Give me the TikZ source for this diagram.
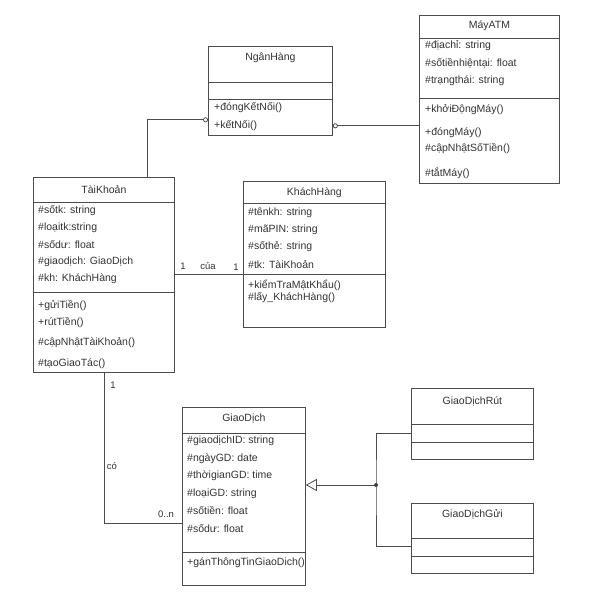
\documentclass[tikz,border=0pt]{standalone}
\usepackage{fontspec}
\setmainfont{Liberation Sans}
\usetikzlibrary{arrows.meta, positioning}

\tikzset{
    classbox/.style={draw=black!70, line width=0.8pt, anchor=north west, inner sep=0pt},
    divider/.style={draw=black!70, line width=0.8pt},
    classname/.style={inner sep=0pt, text=black!80, font=\fontsize{10.5}{12}\selectfont},
    member/.style={anchor=west, inner sep=0pt, text=black!80, font=\fontsize{10.5}{12}\selectfont},
    mult/.style={inner sep=0pt, text=black!80, font=\fontsize{9.5}{11}\selectfont},
    link/.style={draw=black!70, line width=0.8pt},
    agg/.style={link, {Circle[open, length=5pt, width=5pt]}-},
    inherit/.style={link, -{Triangle[open, length=11pt, width=12pt]}}
}

\begin{document}
\begin{tikzpicture}[x=1pt, y=-1pt]
    \useasboundingbox (0,0) rectangle (599,592);

    % class boxes
    \node[classbox, minimum width=124, minimum height=89] (nh) at (208,46) {};
    \node[classbox, minimum width=140, minimum height=168] (atm) at (419,15) {};
    \node[classbox, minimum width=141, minimum height=195] (tk) at (33,177) {};
    \node[classbox, minimum width=142, minimum height=146] (kh) at (243,181) {};
    \node[classbox, minimum width=123, minimum height=178] (gd) at (182,407) {};
    \node[classbox, minimum width=122, minimum height=71] (rut) at (411,388) {};
    \node[classbox, minimum width=122, minimum height=70] (gui) at (411,503) {};

    \foreach \n/\y in {nh/82, nh/99, atm/38, atm/98, tk/202, tk/292, kh/203, kh/274,
                       gd/433, gd/552, rut/424, rut/442, gui/538, gui/556}
        \draw[divider] (\n.west |- 0,\y) -- (\n.east |- 0,\y);

    % names
    \node[classname] (nh-t) at (nh.north |- 0,58) {NgânHàng};
    \node[classname] (atm-t) at (atm.north |- 0,26) {MáyATM};
    \node[classname] (tk-t) at (tk.north |- 0,190) {TàiKhoản};
    \node[classname] (kh-t) at (kh.north |- 0,193) {KháchHàng};
    \node[classname] (gd-t) at (gd.north |- 0,418) {GiaoDịch};
    \node[classname] (rut-t) at (rut.north |- 0,401) {GiaoDịchRút};
    \node[classname] (gui-t) at (gui.north |- 0,514) {GiaoDịchGửi};

    % members
    \foreach \y/\t [count=\i] in {108/{+đóngKếtNối()}, 126/{+kếtNối()}}
        \node[member] (nh-m\i) at (214,\y) {\t};
    \foreach \y/\t [count=\i] in {46/{\#địachỉ: string}, 63/{\#sốtiềnhiệntại: float},
            81/{\#trạngthái: string}, 110/{+khởiĐộngMáy()}, 133/{+đóngMáy()},
            149/{\#cậpNhậtSốTiền()}, 173/{\#tắtMáy()}}
        \node[member] (atm-m\i) at (425,\y) {\t};
    \foreach \y/\t [count=\i] in {211/{\#sốtk: string}, 228/{\#loạitk:string},
            245/{\#sốdư: float}, 262/{\#giaodịch: GiaoDịch}, 279/{\#kh: KháchHàng},
            306/{+gửiTiền()}, 323/{+rútTiền()}, 343/{\#cậpNhậtTàiKhoản()},
            364/{\#tạoGiaoTác()}}
        \node[member] (tk-m\i) at (38,\y) {\t};
    \foreach \y/\t [count=\i] in {213/{\#tênkh: string}, 230/{\#mãPIN: string},
            247/{\#sốthẻ: string}, 265/{\#tk: TàiKhoản}, 285/{+kiểmTraMậtKhẩu()},
            298/{\#lấy\_KháchHàng()}}
        \node[member] (kh-m\i) at (248,\y) {\t};
    \foreach \y/\t [count=\i] in {441/{\#giaodịchID: string}, 459/{\#ngàyGD: date},
            476/{\#thờigianGD: time}, 494/{\#loạiGD: string}, 511/{\#sốtiền: float},
            529/{\#sốdư: float}, 563/{+gánThôngTinGiaoDich()}}
        \node[member] (gd-m\i) at (187,\y) {\t};

    % links
    \draw[agg] ([yshift=16]nh.south west) -| ([xshift=43.5]tk.north);
    \draw[agg] ([yshift=10]nh.south east) -- ([yshift=10]nh.south east -| atm.west);
    \draw[link] (tk.east |- 0,274) -- (kh.west |- 0,274);
    \draw[link] (tk.south) |- ([yshift=62]gd.south west);

    \coordinate (j) at (376,485);
    \draw[inherit] (j) -- (gd.east |- j);
    \draw[link] (rut.west |- 0,433) -| (j) |- (gui.west |- 0,546);
    \fill[black!75] (j) circle (2);

    % multiplicities
    \node[mult] (m1) at (183,266) {1};
    \node[mult] (m2) at (208,266) {của};
    \node[mult] (m3) at (236,267) {1};
    \node[mult] (m4) at (113,385) {1};
    \node[mult] (m5) at (112,466) {có};
    \node[mult] (m6) at (166,514) {0..n};
\end{tikzpicture}
\end{document}
